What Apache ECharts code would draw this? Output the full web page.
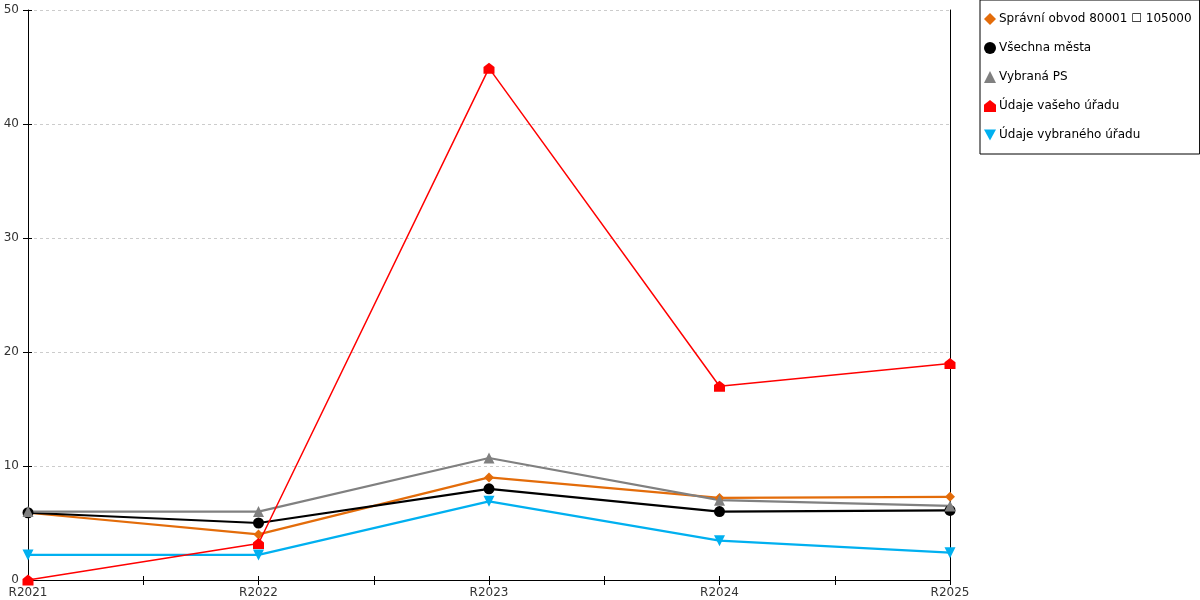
<!DOCTYPE html>
<html lang="cs">
<head>
    <meta charset="UTF-8">
    <title>Graf</title>
    <script src="https://cdn.jsdelivr.net/npm/echarts@6/dist/echarts.min.js"></script>
    <style>
        html, body { margin: 0; padding: 0; background: #fff; }
        #container { width: 1200px; height: 600px; }
    </style>
</head>
<body>
<div id="container"></div>
<script type="text/javascript">
    // data
    var years = ['R2021', 'R2022', 'R2023', 'R2024', 'R2025'];
    var halfTicks = ['', '', '', '', '', '', '', '', ''];   // tick marks every half category
    var yTicks = [0, 10, 20, 30, 40, 50];

    var spravniObvod = [5.9, 4.0, 9.0, 7.2, 7.3];
    var vsechnaMesta = [5.9, 5.0, 8.0, 6.0, 6.1];
    var vybranaPS = [6.0, 6.0, 10.7, 7.0, 6.5];
    var udajeVasehoUradu = [0, 3.2, 44.9, 17.0, 19.0];
    var udajeVybranehoUradu = [2.2, 2.2, 6.9, 3.45, 2.4];

    var names = ['Správní obvod 80001 ☐ 105000', 'Všechna města', 'Vybraná PS', 'Údaje vašeho úřadu', 'Údaje vybraného úřadu'];
    var colors = ['#e36c0a', '#000000', '#808080', '#ff0000', '#00b0f0'];
    var house = 'path://M0,4 L5,0 L10,4 L10,10 L0,10 Z';
    var symbols = ['diamond', 'circle', 'triangle', house, 'path://M0,0 L10,0 L5,9 Z'];
    var values = [spravniObvod, vsechnaMesta, vybranaPS, udajeVasehoUradu, udajeVybranehoUradu];
    var widths = [2.2, 2.2, 2.2, 1.5, 2.2];

    var myChart = echarts.init(document.getElementById('container'));

    var series = [];
    for (var i = 0; i < values.length; i++) {
        series.push({
            name: names[i],
            type: 'line',
            data: values[i],
            symbol: symbols[i],
            symbolSize: i === 0 ? 10 : 11,
            showAllSymbol: true,
            z: i === 3 ? 5 : 2,
            itemStyle: { color: colors[i] },
            lineStyle: { color: colors[i], width: widths[i] },
            emphasis: { disabled: true },
            animation: false
        });
    }

    var font = { fontFamily: 'DejaVu Sans', fontSize: 12, color: '#333' };

    var option = {
        animation: false,
        grid: { left: 28, right: 250, top: 10, bottom: 20 },
        legend: {
            orient: 'vertical',
            left: 980,
            top: 0,
            padding: [13, 8, 13, 4],
            itemGap: 17,
            itemWidth: 12,
            itemHeight: 12,
            itemStyle: { borderWidth: 0 },
            borderColor: '#000',
            borderWidth: 1,
            backgroundColor: '#fff',
            textStyle: { fontFamily: 'DejaVu Sans', fontSize: 12, color: '#000', padding: [0, 0, 0, -2] },
            data: names.map(function (n, i) { return { name: n, icon: symbols[i] }; })
        },
        xAxis: [{
            type: 'category',
            data: years,
            boundaryGap: false,
            axisLine: { lineStyle: { color: '#000', width: 1 } },
            axisTick: { show: false },
            axisLabel: Object.assign({ margin: 7, interval: 0, color: '#222' }, font),
            splitLine: { show: false }
        }, {
            type: 'category',
            data: halfTicks,
            boundaryGap: false,
            position: 'bottom',
            axisLine: { show: false },
            axisTick: { show: true, inside: true, length: 4, interval: 0, lineStyle: { color: '#000' } },
            axisLabel: { show: false }
        }, {
            type: 'category',
            data: halfTicks,
            boundaryGap: false,
            position: 'bottom',
            axisLine: { show: false },
            axisTick: { show: true, length: 5, interval: 0, lineStyle: { color: '#000' } },
            axisLabel: { show: false }
        }],
        yAxis: [{
            type: 'value',
            min: yTicks[0],
            max: yTicks[yTicks.length - 1],
            interval: yTicks[1] - yTicks[0],
            position: 'left',
            axisLine: { show: true, lineStyle: { color: '#000', width: 1 } },
            axisTick: { show: true, length: 5, lineStyle: { color: '#000' } },
            axisLabel: Object.assign({ margin: 9, color: '#222' }, font),
            splitLine: { show: true, lineStyle: { color: '#cccccc', type: [3, 3], width: 1 } }
        }, {
            type: 'value',
            min: yTicks[0],
            max: yTicks[yTicks.length - 1],
            interval: yTicks[1] - yTicks[0],
            position: 'left',
            axisLine: { show: false },
            axisTick: { show: true, inside: true, length: 4, lineStyle: { color: '#000' } },
            axisLabel: { show: false },
            splitLine: { show: false }
        }, {
            type: 'value',
            min: yTicks[0],
            max: yTicks[yTicks.length - 1],
            interval: yTicks[1] - yTicks[0],
            position: 'right',
            axisLine: { show: true, lineStyle: { color: '#000', width: 1 } },
            axisTick: { show: false },
            axisLabel: { show: false },
            splitLine: { show: false }
        }],
        series: series
    };

    myChart.setOption(option);
</script>
</body>
</html>
